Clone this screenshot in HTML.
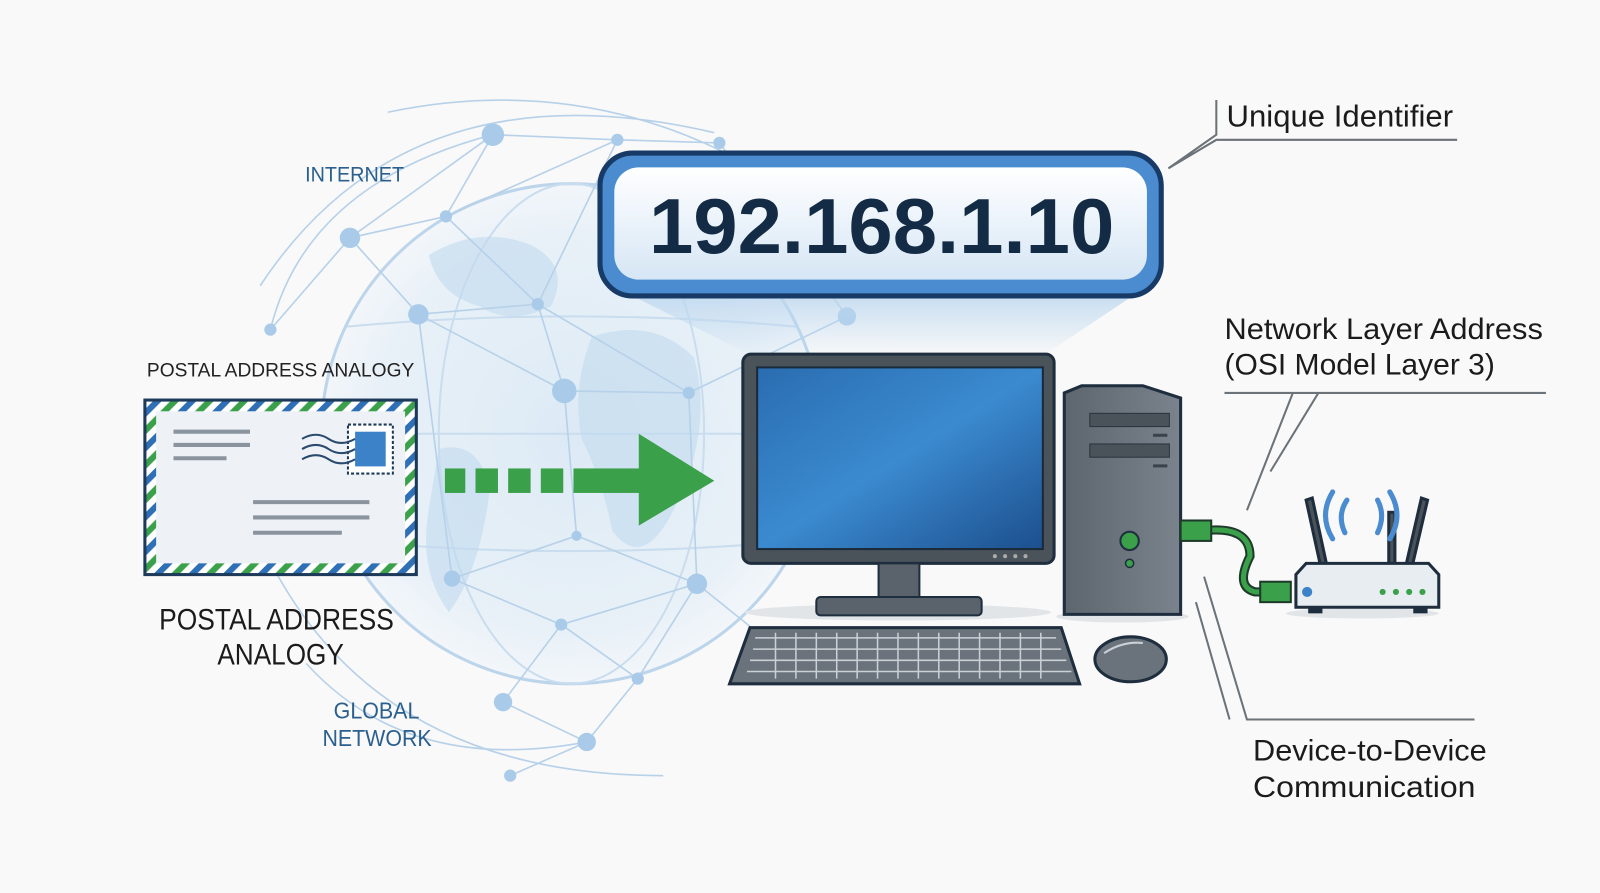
<!DOCTYPE html>
<html><head><meta charset="utf-8"><style>
html,body{margin:0;padding:0;background:#f9f9f9;}
svg{display:block;}
text{font-family:"Liberation Sans",sans-serif;}
</style></head><body>
<svg width="1600" height="893" viewBox="0 0 1568 875" preserveAspectRatio="none" xmlns="http://www.w3.org/2000/svg">
<defs>
<radialGradient id="glb" cx="0.5" cy="0.5" r="0.5">
<stop offset="0" stop-color="#d3e5f4"/><stop offset="0.8" stop-color="#e3eef7"/><stop offset="1" stop-color="#f0f5fa"/></radialGradient>
<linearGradient id="ipg" x1="0" y1="0" x2="0" y2="1"><stop offset="0" stop-color="#ffffff"/><stop offset="1" stop-color="#d6e6f5"/></linearGradient>
<linearGradient id="scr" x1="0" y1="0" x2="1" y2="1"><stop offset="0" stop-color="#2a6db0"/><stop offset="0.5" stop-color="#3b8ad0"/><stop offset="1" stop-color="#1c4f8d"/></linearGradient>
<linearGradient id="tw" x1="0" y1="0" x2="1" y2="0"><stop offset="0" stop-color="#5d666f"/><stop offset="1" stop-color="#7a838c"/></linearGradient>
<linearGradient id="beam" x1="0" y1="0" x2="0" y2="1"><stop offset="0" stop-color="#bcd7ef" stop-opacity="0.8"/><stop offset="1" stop-color="#bcd7ef" stop-opacity="0"/></linearGradient>
<pattern id="stripe" width="24" height="24" patternUnits="userSpaceOnUse" patternTransform="rotate(45)">
<rect width="24" height="24" fill="#ffffff"/><rect width="6" height="24" fill="#2e6fb6"/><rect x="12" width="6" height="24" fill="#3aa04a"/></pattern>
</defs>
<rect width="1568" height="875" fill="#f9f9f9"/>
<!-- globe -->
<circle cx="560" cy="425" r="245" fill="url(#glb)" opacity="0.75"/>
<circle cx="560" cy="425" r="245" fill="none" stroke="#bcd5eb" stroke-width="3"/>
<ellipse cx="560" cy="425" rx="130" ry="245" fill="none" stroke="#c9ddef" stroke-width="2"/>
<path d="M315 425 H805 M340 320 Q560 300 780 320 M340 530 Q560 550 780 530" stroke="#c9ddef" stroke-width="2" fill="none"/>
<path d="M420 250 Q470 220 520 240 Q560 260 540 300 Q500 320 470 300 Q430 290 420 250Z M580 330 Q640 310 680 350 Q700 420 660 500 Q630 560 600 520 Q590 470 570 430 Q560 380 580 330Z M430 440 Q470 430 480 480 Q470 560 440 600 Q410 560 420 500Z" fill="#c2daef" opacity="0.6"/>
<g stroke="#b7d1e9" stroke-width="1.6" fill="none">
<path d="M483 132 L605 137 L705 140 M483 132 L437 212 L343 233 M437 212 L527 298 L410 308 L343 233 M527 298 L553 383 L410 308 M553 383 L675 385 L527 298 M553 383 L565 525 L443 567 L410 308 M565 525 L683 572 L675 385 M443 567 L550 612 L683 572 M550 612 L625 665 L683 572 M493 688 L550 612 M493 688 L575 727 L625 665 M605 137 L527 298 M437 212 L605 137 M343 233 L265 323 M483 132 L343 233 M675 385 L830 310 M683 572 L780 650 M500 760 L575 727 M705 140 L830 310 M265 323 Q300 180 483 132 M300 650 Q400 760 575 727"/>
<path d="M255 280 Q400 60 700 130 M380 110 Q620 60 820 220 M270 560 Q380 760 650 760"/>
</g>
<g fill="#a9cbe9">
<circle cx="483" cy="132" r="11"/><circle cx="605" cy="137" r="6"/><circle cx="705" cy="140" r="6"/><circle cx="437" cy="212" r="6"/><circle cx="343" cy="233" r="10"/><circle cx="527" cy="298" r="6"/><circle cx="410" cy="308" r="10"/><circle cx="553" cy="383" r="12"/><circle cx="675" cy="385" r="6"/><circle cx="565" cy="525" r="5"/><circle cx="443" cy="567" r="8"/><circle cx="683" cy="572" r="10"/><circle cx="550" cy="612" r="6"/><circle cx="625" cy="665" r="6"/><circle cx="493" cy="688" r="9"/><circle cx="575" cy="727" r="9"/><circle cx="500" cy="760" r="6"/><circle cx="265" cy="323" r="6"/><circle cx="830" cy="310" r="9"/><circle cx="780" cy="650" r="6"/>
</g>
<!-- beam -->
<polygon points="620,290 1110,290 1020,350 740,350" fill="url(#beam)"/>
<!-- IP box -->
<rect x="588" y="150" width="550" height="140" rx="32" fill="#4a8ccf" stroke="#173a66" stroke-width="5"/>
<rect x="602" y="164" width="522" height="110" rx="24" fill="url(#ipg)"/>
<text x="636" y="248" font-size="76" font-weight="bold" fill="#142b45" textLength="456" lengthAdjust="spacingAndGlyphs">192.168.1.10</text>
<!-- labels -->
<text x="299" y="178" font-size="21" fill="#2b5f8e" textLength="97" lengthAdjust="spacingAndGlyphs">INTERNET</text>
<text x="144" y="369" font-size="19" fill="#222" textLength="262" lengthAdjust="spacingAndGlyphs">POSTAL ADDRESS ANALOGY</text>
<text x="156" y="617" font-size="29" fill="#1b1b1b" textLength="230" lengthAdjust="spacingAndGlyphs">POSTAL ADDRESS</text>
<text x="213" y="651" font-size="29" fill="#1b1b1b" textLength="124" lengthAdjust="spacingAndGlyphs">ANALOGY</text>
<text x="327" y="704" font-size="23" fill="#2b5f8e" textLength="84" lengthAdjust="spacingAndGlyphs">GLOBAL</text>
<text x="316" y="731" font-size="23" fill="#2b5f8e" textLength="107" lengthAdjust="spacingAndGlyphs">NETWORK</text>
<text x="1202" y="124" font-size="30" fill="#1b1b1b" textLength="222" lengthAdjust="spacingAndGlyphs">Unique Identifier</text>
<path d="M1192 98 V132 L1145 165 L1192 137 H1428" stroke="#6b7278" stroke-width="2" fill="none"/>
<text x="1200" y="332" font-size="29" fill="#1b1b1b" textLength="312" lengthAdjust="spacingAndGlyphs">Network Layer Address</text>
<text x="1200" y="367" font-size="29" fill="#1b1b1b" textLength="265" lengthAdjust="spacingAndGlyphs">(OSI Model Layer 3)</text>
<path d="M1200 385 H1515 M1292 385 L1245 462 M1267 385 L1222 500" stroke="#6b7278" stroke-width="2" fill="none"/>
<text x="1228" y="745" font-size="29" fill="#1b1b1b" textLength="229" lengthAdjust="spacingAndGlyphs">Device-to-Device</text>
<text x="1228" y="781" font-size="29" fill="#1b1b1b" textLength="218" lengthAdjust="spacingAndGlyphs">Communication</text>
<path d="M1445 705 H1222 L1180 565 M1205 705 L1172 590" stroke="#6b7278" stroke-width="2" fill="none"/>
<!-- envelope -->
<rect x="142" y="392" width="266" height="171" fill="url(#stripe)" stroke="#1e3a5a" stroke-width="3"/>
<rect x="153" y="403" width="244" height="149" fill="#eef2f6"/>
<path d="M170 423 H245 M170 436 H245 M170 449 H222 M248 492 H362 M248 507 H362 M248 522 H335" stroke="#8a949e" stroke-width="4"/>
<rect x="341" y="416" width="44" height="48" fill="#fff" stroke="#1e3a5a" stroke-width="2" stroke-dasharray="3 2"/>
<rect x="348" y="423" width="30" height="34" fill="#3c82c8"/>
<path d="M296 430 Q310 422 322 430 T348 430 M296 440 Q310 432 322 440 T348 440 M296 450 Q310 442 322 450 T348 450" stroke="#2a4a6e" stroke-width="2" fill="none"/>
<!-- arrow -->
<g fill="#3aa04a">
<rect x="436" y="459" width="20" height="24"/><rect x="466" y="459" width="22" height="24"/><rect x="498" y="459" width="22" height="24"/><rect x="530" y="459" width="22" height="24"/><rect x="562" y="459" width="66" height="24"/>
<polygon points="626,425 700,471 626,515"/>
</g>
<!-- monitor -->
<ellipse cx="880" cy="600" rx="150" ry="8" fill="#e2e5e8"/>
<rect x="728" y="347" width="305" height="205" rx="8" fill="#4a525a" stroke="#1e2e3e" stroke-width="3"/>
<rect x="742" y="360" width="280" height="178" fill="url(#scr)" stroke="#1a2a3a" stroke-width="2"/>
<circle cx="975" cy="545" r="2" fill="#aaa"/><circle cx="985" cy="545" r="2" fill="#aaa"/><circle cx="995" cy="545" r="2" fill="#aaa"/><circle cx="1005" cy="545" r="2" fill="#aaa"/>
<rect x="861" y="552" width="40" height="35" fill="#5a636b" stroke="#1e2e3e" stroke-width="2"/>
<rect x="800" y="585" width="162" height="18" rx="4" fill="#5a636b" stroke="#1e2e3e" stroke-width="2"/>
<!-- keyboard -->
<polygon points="735,615 1040,615 1058,670 715,670" fill="#6a737b" stroke="#1e2e3e" stroke-width="3"/>
<g fill="none" stroke="#c9d0d6" stroke-width="1.5">
<path d="M740 625 H1035 M738 636 H1040 M735 647 H1045 M732 658 H1050 M760 620 V665 M800 620 V665 M840 620 V665 M880 620 V665 M920 620 V665 M960 620 V665 M1000 620 V665 M780 620 V665 M820 620 V665 M860 620 V665 M900 620 V665 M940 620 V665 M980 620 V665 M1020 620 V665"/>
</g>
<!-- mouse -->
<ellipse cx="1108" cy="646" rx="35" ry="22" fill="#6a737b" stroke="#1e2e3e" stroke-width="3"/>
<path d="M1082 640 Q1100 628 1120 630" stroke="#c9d0d6" stroke-width="2" fill="none"/>
<!-- tower -->
<ellipse cx="1100" cy="604" rx="65" ry="6" fill="#e2e5e8"/>
<polygon points="1043,385 1060,378 1120,378 1157,390 1157,602 1043,602" fill="url(#tw)" stroke="#1e2e3e" stroke-width="3"/>
<rect x="1068" y="405" width="78" height="13" fill="#4a525a" stroke="#2a333b"/>
<rect x="1068" y="435" width="78" height="13" fill="#4a525a" stroke="#2a333b"/>
<rect x="1130" y="425" width="14" height="3" fill="#3a434b"/><rect x="1130" y="455" width="14" height="3" fill="#3a434b"/>
<circle cx="1107" cy="530" r="9" fill="#3aa04a" stroke="#1e2e3e" stroke-width="2"/>
<circle cx="1107" cy="552" r="4" fill="#3aa04a" stroke="#1e2e3e" stroke-width="1.5"/>
<!-- cable -->
<path d="M1180 520 Q1225 515 1225 545 Q1210 575 1230 580 H1250" stroke="#1e3a2a" stroke-width="9" fill="none"/>
<path d="M1180 520 Q1225 515 1225 545 Q1210 575 1230 580 H1250" stroke="#3aa04a" stroke-width="5" fill="none"/>
<rect x="1157" y="510" width="30" height="20" fill="#3aa04a" stroke="#1e3a2a" stroke-width="2"/>
<rect x="1235" y="570" width="30" height="20" fill="#3aa04a" stroke="#1e3a2a" stroke-width="2"/>
<!-- router -->
<g stroke="#1e2e3e" stroke-width="3" fill="#4a525a">
<polygon points="1280,490 1286,488 1302,562 1296,563"/>
<rect x="1361" y="502" width="6" height="60"/>
<polygon points="1393,488 1399,490 1382,563 1376,562"/>
</g>
<path d="M1320 490 Q1310 505 1318 522 M1306 482 Q1292 505 1306 528 M1350 490 Q1358 505 1350 522 M1362 482 Q1376 505 1362 528" stroke="#4a8ccf" stroke-width="5" fill="none" stroke-linecap="round"/>
<ellipse cx="1335" cy="601" rx="75" ry="5" fill="#e2e5e8"/>
<polygon points="1270,563 1280,552 1400,552 1410,563 1410,595 1270,595" fill="#e8edf2" stroke="#1e2e3e" stroke-width="3"/>
<rect x="1282" y="595" width="14" height="6" fill="#1e2e3e"/><rect x="1385" y="595" width="14" height="6" fill="#1e2e3e"/>
<circle cx="1281" cy="580" r="5" fill="#3c82c8"/>
<circle cx="1355" cy="580" r="3" fill="#3aa04a"/><circle cx="1368" cy="580" r="3" fill="#3aa04a"/><circle cx="1381" cy="580" r="3" fill="#3aa04a"/><circle cx="1394" cy="580" r="3" fill="#3aa04a"/>
</svg>
</body></html>
